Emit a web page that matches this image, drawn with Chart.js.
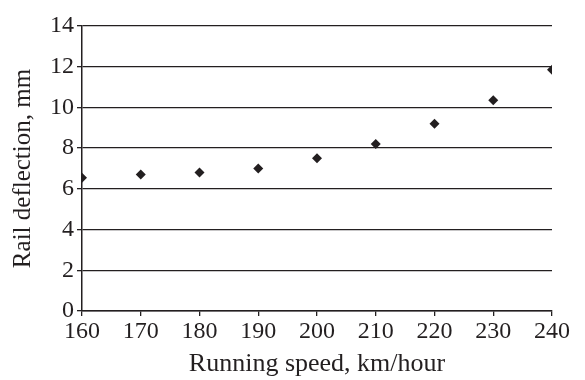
<!DOCTYPE html>
<html>
<head>
<meta charset="utf-8">
<script src="https://cdn.jsdelivr.net/npm/chart.js@4"></script>
<style>
  html, body { margin: 0; padding: 0; background: #fff; }
  #wrap { width: 585px; height: 380px; position: relative; }
</style>
</head>
<body>
<div id="wrap"><canvas id="deflectionChart"></canvas></div>
<script>
// speed in km/h, rail deflection in mm
const speeds = [160, 170, 180, 190, 200, 210, 220, 230, 240];
const deflections = [6.55, 6.7, 6.8, 7.0, 7.5, 8.2, 9.2, 10.35, 11.85];

const xTitle = 'Running speed, km/hour';
const yTitle = 'Rail deflection, mm';

const ink = '#231f20';
const serif = "'Liberation Serif', serif";

const points = speeds.map((s, i) => ({ x: s, y: deflections[i] }));

const ctx = document.getElementById('deflectionChart').getContext('2d');

new Chart(ctx, {
    type: 'scatter',
    data: {
        datasets: [{
            data: points,
            pointStyle: 'rectRot',
            pointRadius: 5,
            backgroundColor: ink,
            borderColor: ink,
            borderWidth: 0
        }]
    },
    options: {
        responsive: true,
        maintainAspectRatio: false,
        animation: false,
        layout: { padding: { left: 8, right: 33, top: 26, bottom: 0 } },
        plugins: {
            legend: { display: false },
            tooltip: { enabled: false }
        },
        scales: {
            x: {
                type: 'linear',
                min: 160,
                max: 240,
                ticks: {
                    stepSize: 10,
                    color: ink,
                    padding: 1,
                    maxRotation: 0,
                    font: { family: serif, size: 24 }
                },
                grid: {
                    drawOnChartArea: false,
                    drawTicks: true,
                    tickLength: 5,
                    tickColor: ink,
                    lineWidth: 1.3
                },
                border: { display: true, color: ink, width: 1.5 },
                title: {
                    display: true,
                    text: xTitle,
                    color: ink,
                    padding: { top: 2, bottom: 0 },
                    font: { family: serif, size: 26 }
                }
            },
            y: {
                min: 0,
                max: 14,
                ticks: {
                    stepSize: 2,
                    color: ink,
                    padding: 3,
                    font: { family: serif, size: 24 }
                },
                grid: {
                    color: ink,
                    lineWidth: 1.3,
                    drawTicks: true,
                    tickLength: 5,
                    tickColor: ink
                },
                border: { display: true, color: ink, width: 1.5 },
                title: {
                    display: true,
                    text: yTitle,
                    color: ink,
                    padding: { top: 0, bottom: 9 },
                    font: { family: serif, size: 25 }
                }
            }
        }
    }
});
</script>
</body>
</html>
